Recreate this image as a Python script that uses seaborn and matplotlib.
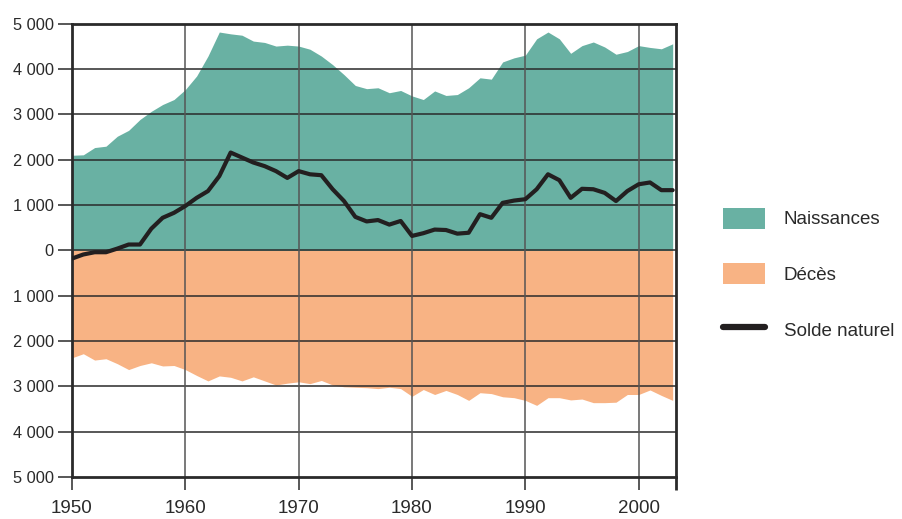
import numpy as np
import pandas as pd
import seaborn as sns
import matplotlib.pyplot as plt
from matplotlib.patches import Patch
from matplotlib.lines import Line2D
from matplotlib.ticker import FuncFormatter

# données
annees = list(range(1950, 2004))
naissances = [2100, 2110, 2270, 2300, 2520, 2650, 2890, 3070, 3220, 3330,
              3550, 3850, 4290, 4820, 4780, 4750, 4620, 4590, 4510, 4530,
              4510, 4440, 4290, 4100, 3880, 3640, 3570, 3590, 3480, 3530,
              3410, 3330, 3520, 3420, 3440, 3590, 3810, 3780, 4160, 4250,
              4310, 4670, 4820, 4670, 4350, 4520, 4600, 4490, 4330, 4390,
              4520, 4480, 4450, 4560]
deces = [2370, 2280, 2420, 2390, 2500, 2630, 2540, 2480, 2550, 2540,
         2630, 2760, 2880, 2770, 2800, 2880, 2790, 2880, 2970, 2930,
         2900, 2940, 2870, 2970, 3010, 3020, 3030, 3050, 3020, 3050,
         3220, 3070, 3180, 3090, 3180, 3310, 3140, 3160, 3230, 3250,
         3310, 3420, 3250, 3250, 3300, 3280, 3360, 3360, 3350, 3180,
         3180, 3080, 3200, 3310]
solde = [-180, -90, -40, -40, 40, 130, 130, 480, 720, 830,
         980, 1160, 1310, 1640, 2160, 2050, 1940, 1860, 1750, 1600,
         1750, 1680, 1660, 1350, 1090, 740, 640, 670, 570, 650,
         320, 380, 460, 450, 370, 390, 800, 720, 1050, 1100,
         1130, 1350, 1680, 1550, 1160, 1360, 1350, 1270, 1090, 1310,
         1460, 1500, 1330, 1330]

df = pd.DataFrame({'annee': annees, 'naissances': naissances,
                   'deces': deces, 'solde': solde})

sns.set_style('white')
plt.rcParams['font.family'] = ['Liberation Sans', 'DejaVu Sans']

vert = '#69b1a3'
orange = '#f8b384'
noir = '#231f20'

fig = plt.figure(figsize=(9.03, 5.19), dpi=100)
ax = fig.add_axes([0.0797, 0.081, 0.669, 0.873])

ax.fill_between(df['annee'], 0, df['naissances'], color=vert, lw=0, zorder=1)
ax.fill_between(df['annee'], 0, -df['deces'], color=orange, lw=0, zorder=1)

# grille par-dessus les surfaces
for y in range(-4000, 5000, 1000):
    ax.axhline(y, color='#2a2a2a', lw=1.1, zorder=2)
for x in range(1960, 2001, 10):
    ax.axvline(x, color='#555555', lw=1.1, zorder=2)

sns.lineplot(data=df, x='annee', y='solde', color=noir, lw=3, ax=ax, zorder=3)

ax.set_xlim(1950, 2003.3)
ax.set_ylim(-5000, 5000)
ax.set_xticks(range(1950, 2001, 10))
ax.set_xticks([2003.3], minor=True)
ax.set_yticks(range(-5000, 5001, 1000))
ax.yaxis.set_major_formatter(FuncFormatter(
    lambda v, p: f'{abs(int(v)):,}'.replace(',', ' ')))
ax.tick_params(axis='y', labelsize=11.8, colors='#2a2a2a', length=10,
               width=1.1, pad=3, direction='out', left=True)
ax.tick_params(axis='x', which='both', labelsize=13.5, colors='#2a2a2a',
               length=9.5, width=1.1, pad=7, direction='out', bottom=True)
ax.tick_params(axis='x', which='minor', width=2)
ax.set_xlabel('')
ax.set_ylabel('')
for s in ax.spines.values():
    s.set_linewidth(2)
    s.set_color('#2a2a2a')

handles = [Patch(facecolor=vert, edgecolor='none', label='Naissances'),
           Patch(facecolor=orange, edgecolor='none', label='Décès'),
           Line2D([0], [0], color=noir, lw=4.5, label='Solde naturel')]
fig.legend(handles=handles, loc='upper left', bbox_to_anchor=(0.8007, 0.6),
           frameon=False, fontsize=13.5, handlelength=2.25, handleheight=1.35,
           labelspacing=1.85, handletextpad=1.0, borderpad=0,
           borderaxespad=0, labelcolor='#2a2a2a')

fig.savefig('out.png', dpi=100)
